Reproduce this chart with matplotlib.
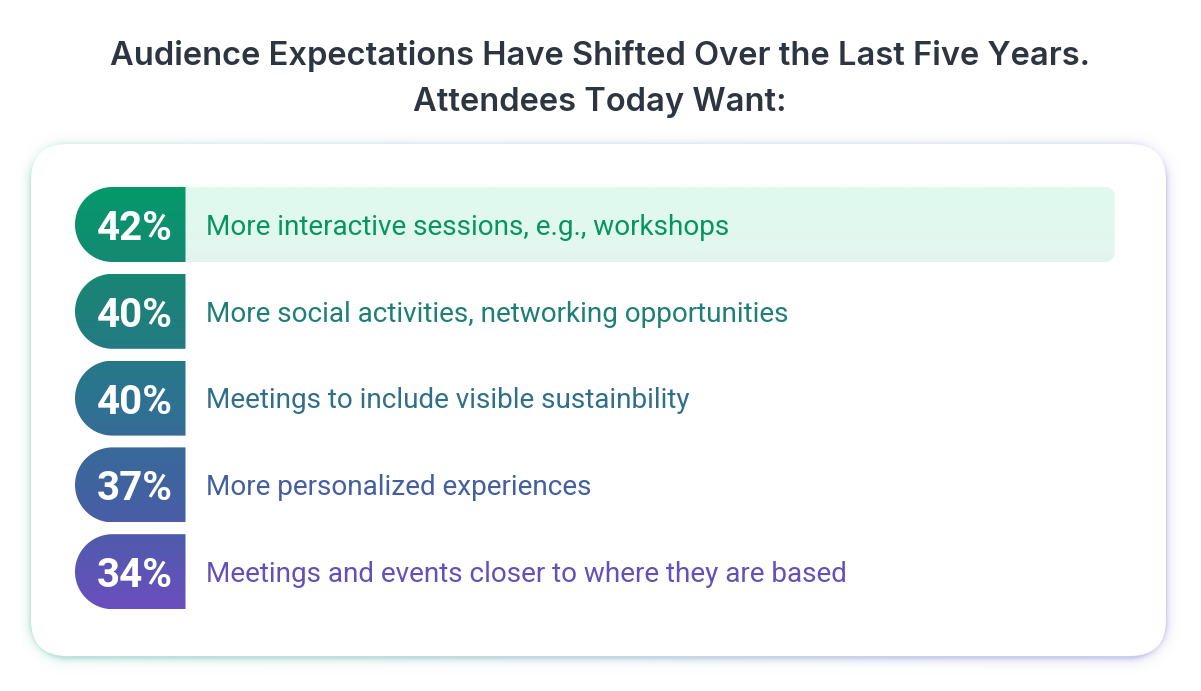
import matplotlib.pyplot as plt
import numpy as np
from matplotlib.path import Path
from matplotlib.patches import PathPatch, FancyBboxPatch
from matplotlib.colors import LinearSegmentedColormap, to_rgb

title_lines = ["Audience Expectations Have Shifted Over the Last Five Years.",
               "Attendees Today Want:"]
values = [42, 40, 40, 37, 34]
labels = ["More interactive sessions, e.g., workshops",
          "More social activities, networking opportunities",
          "Meetings to include visible sustainbility",
          "More personalized experiences",
          "Meetings and events closer to where they are based"]

W, H = 1201, 691

badge_cmap = LinearSegmentedColormap.from_list(
    'badge', ['#04996a', '#1b8376', '#2d7391', '#4460a3', '#6a4fbe'])
bar_cmap = LinearSegmentedColormap.from_list(
    'bar', ['#e0faee', '#e4f5f0', '#e6f0f7', '#e8ebfb', '#ede5fc'])
text_colors = ['#079463', '#1d7f76', '#2f6f8b', '#435ea1', '#6450b8']


def rrect_sdf(x, y, x0, y0, x1, y1, r):
    cx, cy = (x0 + x1) / 2, (y0 + y1) / 2
    qx = np.abs(x - cx) - ((x1 - x0) / 2 - r)
    qy = np.abs(y - cy) - ((y1 - y0) / 2 - r)
    out = np.hypot(np.maximum(qx, 0), np.maximum(qy, 0))
    return out + np.minimum(np.maximum(qx, qy), 0) - r


def badge_path(x0, x1, top, h):
    r = h / 2
    th = np.linspace(np.pi / 2, 3 * np.pi / 2, 80)
    arc = np.column_stack([x0 + r + r * np.cos(th), top + r - r * np.sin(th)])
    pts = np.vstack([[x1, top], arc, [x1, top + h], [x1, top]])
    return Path(pts, closed=True)


def bar_path(x0, x1, top, h, r=9):
    a1 = np.linspace(-np.pi / 2, 0, 20)
    a2 = np.linspace(0, np.pi / 2, 20)
    c1 = np.column_stack([x1 - r + r * np.cos(a1), top + r + r * np.sin(a1)])
    c2 = np.column_stack([x1 - r + r * np.cos(a2), top + h - r + r * np.sin(a2)])
    pts = np.vstack([[x0, top], c1, c2, [x0, top + h], [x0, top]])
    return Path(pts, closed=True)


fig = plt.figure(figsize=(W / 100, H / 100), dpi=100)
fig.patch.set_facecolor('white')

# percent scale that sizes the bars
ax_val = fig.add_axes([0, 0, 1, 1])
ax_val.set_xlim(3.95, 44.95)
ax_val.axis('off')

ax = fig.add_axes([0, 0, 1, 1])
ax.axis('off')


def val_to_px(v):
    disp = ax_val.transData.transform((v, 0))
    return ax.transData.inverted().transform(disp)[0]


# card shadow / glow
yy, xx = np.mgrid[0:H, 0:W] + 0.5
d = rrect_sdf(xx, yy - 2, 31, 144, 1166, 656, 36)
alpha = 0.55 * np.exp(-np.clip(d, 0, None) / 3.5)
t = (xx / W)[..., None]
rgb = np.array(to_rgb('#86d3ba')) * (1 - t) + np.array(to_rgb('#a7a1e3')) * t
ax.imshow(np.dstack([rgb, alpha]), extent=(0, W, H, 0), aspect='auto',
          interpolation='bilinear', zorder=0)

ax.add_patch(FancyBboxPatch((31, 144), 1135, 512,
                            boxstyle='round,pad=0,rounding_size=36',
                            fc='white', ec='none', zorder=1))

x_start, x_split = 75, 185
row_h, pitch, first_top = 75, 86.8, 187
y_lo = first_top
y_hi = first_top + pitch * (len(values) - 1) + row_h

for i, (v, lab) in enumerate(zip(values, labels)):
    top = first_top + i * pitch
    bot = top + row_h
    t0, t1 = (top - y_lo) / (y_hi - y_lo), (bot - y_lo) / (y_hi - y_lo)
    ramp = np.linspace(t0, t1, 100)

    x_end = val_to_px(v)
    bp = PathPatch(bar_path(x_split, x_end, top, row_h), fc='none', ec='none')
    ax.add_patch(bp)
    im = ax.imshow(bar_cmap(ramp)[:, None, :], extent=(x_split, x_end, bot, top),
                   aspect='auto', zorder=2)
    im.set_clip_path(bp)

    gp = PathPatch(badge_path(x_start, x_split + 0.5, top, row_h), fc='none', ec='none')
    ax.add_patch(gp)
    im = ax.imshow(badge_cmap(ramp)[:, None, :], extent=(x_start, x_split + 0.5, bot, top),
                   aspect='auto', zorder=3)
    im.set_clip_path(gp)

    cy = top + row_h / 2
    ax.text(135, cy + 15.5, f"{v}%", ha='center', va='baseline', color='white',
            fontsize=29, fontweight='bold', family='Roboto', zorder=4)
    ax.text(206, cy + 10.3, lab, ha='left', va='baseline', color=text_colors[i],
            fontsize=20.1, family='Roboto', zorder=4)

for line, base in zip(title_lines, [65, 111]):
    ax.text(600, base, line, ha='center', va='baseline', color='#2d3540',
            fontsize=23.5, fontweight='semibold', family='Inter', zorder=4)

ax.set_xlim(0, W)
ax.set_ylim(H, 0)

fig.savefig('out.png', dpi=100, facecolor='white')
